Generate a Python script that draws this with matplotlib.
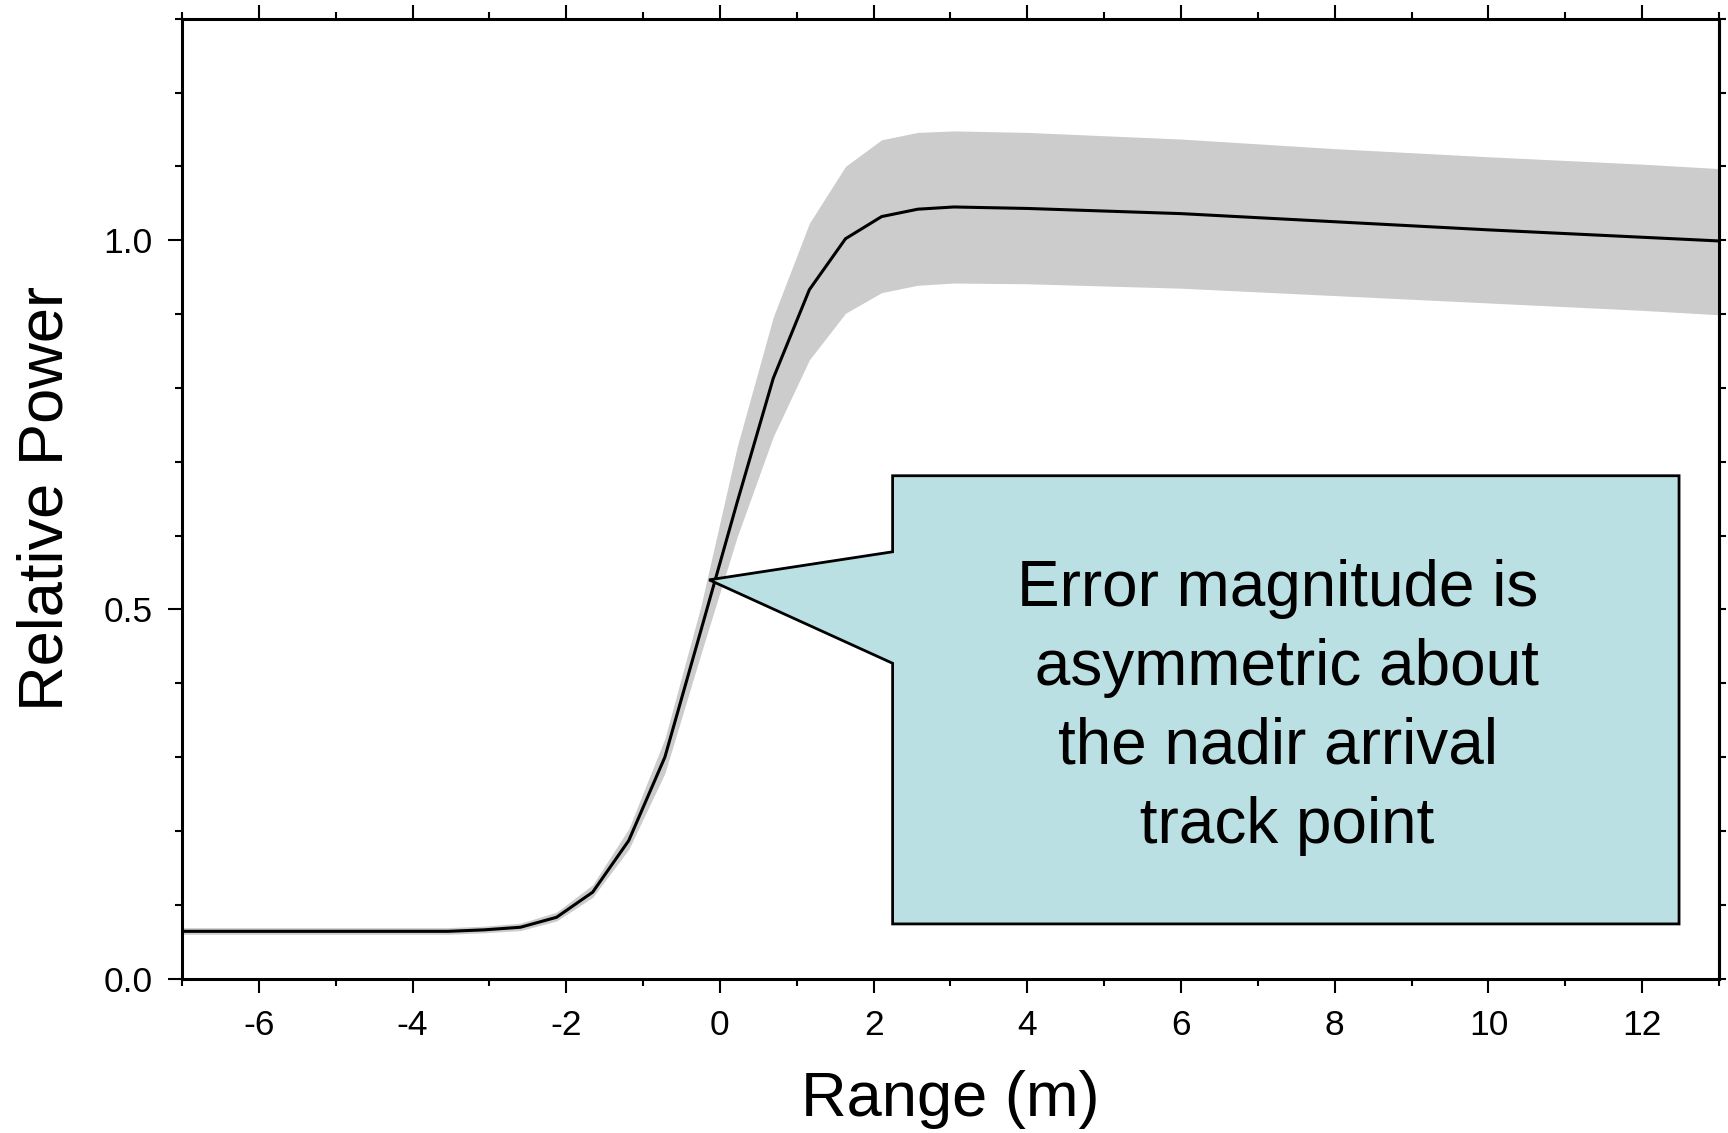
import numpy as np
import matplotlib
matplotlib.use('Agg')
import matplotlib.pyplot as plt
from matplotlib.patches import Polygon
from matplotlib.ticker import MultipleLocator, NullFormatter

plt.rcParams['font.family'] = ['Liberation Sans', 'DejaVu Sans']
plt.rcParams['axes.unicode_minus'] = False

# range (m) and relative power
range_m = [-7.0, -3.536, -3.066, -2.596, -2.126, -1.656, -1.186, -0.716, -0.246,
           0.224, 0.694, 1.164, 1.634, 2.104, 2.574, 3.044, 4.0, 6.0, 8.0, 10.0, 12.0, 13.0]
power = [0.064, 0.064, 0.066, 0.0695, 0.083, 0.117, 0.187, 0.300, 0.472,
         0.645, 0.813, 0.933, 1.002, 1.032, 1.042, 1.045, 1.043, 1.036, 1.025, 1.014, 1.004, 0.999]
power_hi = [0.069, 0.069, 0.071, 0.075, 0.090, 0.127, 0.203, 0.325, 0.505,
            0.720, 0.896, 1.023, 1.100, 1.136, 1.146, 1.148, 1.146, 1.137, 1.124, 1.113, 1.103, 1.097]
power_lo = [0.060, 0.060, 0.062, 0.065, 0.078, 0.110, 0.175, 0.278, 0.440,
            0.598, 0.734, 0.838, 0.901, 0.929, 0.939, 0.942, 0.941, 0.935, 0.925, 0.915, 0.905, 0.899]

note = "Error magnitude is\n asymmetric about\nthe nadir arrival\n track point"

# callout shape (data coords)
box_l, box_r, box_b, box_t = 2.247, 12.48, 0.074, 0.681
tip = (-0.14, 0.54)
base_hi, base_lo = 0.578, 0.427

fig = plt.figure(figsize=(17.28, 11.33), dpi=100)
ax = fig.add_axes([0.1053, 0.1363, 0.8895, 0.8472])

ax.fill_between(range_m, power_lo, power_hi, color='#cccccc', lw=0, zorder=1)
ax.plot(range_m, power, color='black', lw=2.2, zorder=2)

callout = Polygon([(box_l, box_t), (box_r, box_t), (box_r, box_b), (box_l, box_b),
                   (box_l, base_lo), tip, (box_l, base_hi)],
                  closed=True, facecolor='#bbe0e3', edgecolor='black', lw=2.0, zorder=3)
ax.add_patch(callout)
ax.text(7.26, 0.367, note, ha='center', va='center', multialignment='center',
        fontsize=46, linespacing=1.40, zorder=4)

ax.set_xlim(-7, 13)
ax.set_ylim(0, 1.3)

ax.xaxis.set_major_locator(MultipleLocator(2))
ax.xaxis.set_minor_locator(MultipleLocator(1))
ax.yaxis.set_major_locator(MultipleLocator(0.5))
ax.yaxis.set_minor_locator(MultipleLocator(0.1))
ax.yaxis.set_major_formatter(plt.FuncFormatter(lambda v, p: '%.1f' % v))

ax.tick_params(axis='x', which='both', direction='out', top=True, labelsize=25.5, width=1.5, pad=12)
ax.tick_params(axis='x', which='major', length=10)
ax.tick_params(axis='x', which='minor', length=5)
ax.tick_params(axis='y', which='both', direction='out', left=True, right=False, labelsize=25.5, width=1.5, pad=11)
ax.tick_params(axis='y', which='major', length=10)
ax.tick_params(axis='y', which='minor', length=5)

right = ax.secondary_yaxis('right')
right.yaxis.set_major_locator(MultipleLocator(0.1))
right.yaxis.set_major_formatter(NullFormatter())
right.tick_params(direction='out', length=5, width=1.5)
right.spines['right'].set_linewidth(2.2)

for s in ax.spines.values():
    s.set_linewidth(2.2)

ax.set_xlabel('Range (m)', fontsize=45.5, labelpad=20)
ax.set_ylabel('Relative Power', fontsize=45.5, labelpad=20)

fig.savefig('out.png', dpi=100)
